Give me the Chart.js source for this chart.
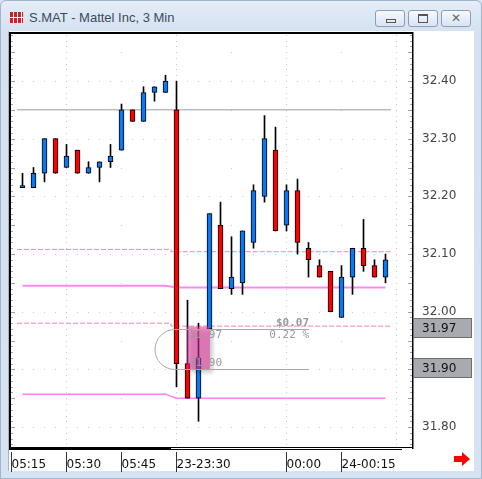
<!DOCTYPE html>
<html>
<head>
    <meta charset="UTF-8">
    <title>S.MAT - Mattel Inc, 3 Min</title>
    <script src="https://cdn.jsdelivr.net/npm/chart.js@4.4.0/dist/chart.umd.min.js"></script>
    <style>
      body { margin:0; width:482px; height:479px; overflow:hidden; background:#d6e3f3; }
      .win { position:absolute; left:0; top:0; width:480px; height:477px; border:1px solid #a3b3c9;
             border-radius:6px 6px 0 0; background:linear-gradient(#e4edf8, #d4e1f1 32px, #d6e3f3); }
      .title { position:absolute; left:29px; top:10px; font:13px "Liberation Sans", Arial, sans-serif; color:#3d4a5e; }
      .icon { position:absolute; left:10px; top:12px; width:13px; height:11px;
              background:repeating-linear-gradient(90deg, #d42020 0 3px, #fff 3px 4px); }
      .icon:after { content:""; position:absolute; left:0; top:5px; width:13px; height:1px; background:#fff; }
      .btn { position:absolute; top:10px; width:28px; height:15px; border:1px solid #8d9db5; border-radius:3px;
             background:linear-gradient(#f6f9fd, #d9e4f1); }
      .min:after { content:""; position:absolute; left:10px; top:8px; width:8px; height:2px; border:1px solid #555; }
      .max:after { content:""; position:absolute; left:9px; top:3px; width:8px; height:6px; border:1px solid #555; border-top-width:2px; }
      .cls { font:bold 12px "DejaVu Sans", sans-serif; color:#666; text-align:center; line-height:15px; }
      .client { position:absolute; left:8px; top:31px; width:465px; height:440px; background:#fff; border-left:1px solid #a8b4c4; }
      canvas { position:absolute; left:0; top:0; }
    </style>
</head>
<body>
    <div class="win"></div>
    <div class="icon"></div>
    <div class="title">S.MAT - Mattel Inc, 3 Min</div>
    <div class="btn min" style="left:375px"></div>
    <div class="btn max" style="left:408px"></div>
    <div class="btn cls" style="left:441px">✕</div>
    <div class="client"></div>
    <canvas id="myChart" width="474" height="474"></canvas>

  <script>
      // 3 min candles, index 0..33
      const opens  = [32.215, 32.215, 32.24, 32.30, 32.25, 32.28, 32.24, 32.25, 32.26, 32.28, 32.35, 32.33, 32.38, 32.38, 32.35, 31.91, 31.85,
                      31.97, 32.15, 32.04, 32.05, 32.12, 32.20, 32.28, 32.15, 32.21, 32.11, 32.08, 32.07, 31.99, 32.06, 32.11, 32.08, 32.06];
      const highs  = [32.24, 32.25, 32.30, 32.30, 32.29, 32.28, 32.26, 32.26, 32.29, 32.36, 32.35, 32.39, 32.39, 32.41, 32.40, 32.02, 31.98,
                      32.17, 32.19, 32.13, 32.14, 32.22, 32.34, 32.32, 32.22, 32.23, 32.12, 32.09, 32.07, 32.08, 32.11, 32.16, 32.09, 32.10];
      const lows   = [32.215, 32.215, 32.225, 32.24, 32.25, 32.24, 32.24, 32.225, 32.25, 32.28, 32.33, 32.33, 32.365, 32.38, 31.87, 31.85, 31.81,
                      31.97, 32.04, 32.03, 32.03, 32.11, 32.19, 32.14, 32.14, 32.10, 32.06, 32.06, 32.00, 31.99, 32.03, 32.07, 32.06, 32.05];
      const closes = [32.215, 32.24, 32.30, 32.24, 32.27, 32.24, 32.25, 32.26, 32.27, 32.35, 32.33, 32.38, 32.39, 32.40, 31.91, 31.85, 31.92,
                      32.17, 32.04, 32.06, 32.14, 32.21, 32.30, 32.14, 32.21, 32.12, 32.09, 32.06, 32.00, 32.06, 32.11, 32.08, 32.06, 32.09];

      // bottom time axis (bar index of each label)
      const timeIdx    = [-1, 4, 9, 14, 24, 29];
      const timeLabels = ['05:15', '05:30', '05:45', '23-23:30', '00:00', '24-00:15'];
      const priceTicks = [31.8, 31.9, 32.0, 32.1, 32.2, 32.3, 32.4];

      // overlay lines as [barIndex, price]
      const refLine    = [[-0.5, 32.35], [33.5, 32.35]];
      const upperDash  = [[-0.5, 32.108], [13.5, 32.108], [13.5, 32.104], [33.5, 32.104]];
      const upperBand  = [[0, 32.045], [13, 32.045], [14, 32.042], [33, 32.042]];
      const lowerDash  = [[-0.5, 31.980], [13.5, 31.980], [13.5, 31.975], [33.5, 31.975]];
      const lowerBand  = [[0, 31.857], [13, 31.857], [14, 31.850], [33, 31.850]];

      // price measure tool
      const measureHi = 31.97, measureLo = 31.90;
      const measureFrom = 14.95, measureTo = 17.05;
      const measureText = ['$0.07', '0.22 %'];

      const BLUE = '#0a78f0', RED = '#ff0000';
      const pts = a => a.map(p => ({x: p[0], y: p[1]}));

      const chrome = {
        id: 'chrome',
        beforeDatasetsDraw(chart) {
          const ctx = chart.ctx, xs = chart.scales.x, ys = chart.scales.y, a = chart.chartArea;
          ctx.save();
          ctx.fillStyle = '#c9c9c9';
          priceTicks.forEach(v => {
            const y = Math.round(ys.getPixelForValue(v));
            for (let i = 0; i <= 34; i++) ctx.fillRect(Math.floor(xs.getPixelForValue(i)), y, 1, 1);
          });
          for (let c = 3177; c <= 3248; c++) {
            const y = Math.round(ys.getPixelForValue(c / 100));
            [4, 14, 24, 34].forEach(i => ctx.fillRect(Math.floor(xs.getPixelForValue(i)), y, 1, 1));
            if (c % 5 === 0) [9, 19, 29].forEach(i => ctx.fillRect(Math.floor(xs.getPixelForValue(i)), y, 1, 1));
          }
          // small price ticks inside the frame
          ctx.fillStyle = '#a0a0a0';
          for (let c = 3177; c <= 3248; c++) {
            const y = Math.round(ys.getPixelForValue(c / 100));
            const len = c % 5 === 0 ? 4 : 2;
            ctx.fillRect(a.left + 1, y, len, 1);
            ctx.fillRect(a.right - len, y, len, 1);
          }
          ctx.restore();
        },
        afterDatasetsDraw(chart) {
          const ctx = chart.ctx, xs = chart.scales.x, ys = chart.scales.y, a = chart.chartArea;
          const yHi = Math.round(ys.getPixelForValue(measureHi)) + 0.5;
          const yLo = Math.round(ys.getPixelForValue(measureLo)) + 0.5;
          const x0 = xs.getPixelForValue(measureFrom), x1 = xs.getPixelForValue(measureTo);
          ctx.save();
          // pink box with shadow
          ctx.shadowColor = 'rgba(0,0,0,0.35)';
          ctx.shadowBlur = 4; ctx.shadowOffsetX = 3; ctx.shadowOffsetY = 3;
          ctx.fillStyle = 'rgba(228,46,155,0.55)';
          ctx.fillRect(x0, yHi - 3, x1 - x0, yLo - yHi + 3);
          ctx.restore();
          ctx.save();
          ctx.strokeStyle = '#a8a8a8'; ctx.lineWidth = 1;
          const r = (yLo - yHi) / 2, cx = 175;
          ctx.beginPath();
          ctx.moveTo(309, yHi); ctx.lineTo(cx, yHi);
          ctx.arc(cx, yHi + r, r, -Math.PI / 2, Math.PI / 2, true);
          ctx.lineTo(309, yLo);
          ctx.stroke();
          ctx.fillStyle = '#9a9a9a';
          ctx.font = '11px "DejaVu Sans Mono"';
          ctx.textBaseline = 'middle';
          ctx.textAlign = 'left';
          ctx.fillText(measureHi.toFixed(2), 189, yHi + 6);
          ctx.fillText(measureLo.toFixed(2), 189, yLo - 6);
          ctx.textAlign = 'right';
          ctx.font = 'bold 11px "DejaVu Sans Mono"';
          ctx.fillText(measureText[0], 309, yHi - 6);
          ctx.font = '11px "DejaVu Sans Mono"';
          ctx.fillText(measureText[1], 309, yHi + 6);

          // frame
          ctx.fillStyle = '#000';
          ctx.fillRect(a.left - 1, a.top - 1, 2, a.bottom - a.top + 2);
          ctx.fillRect(a.left - 1, a.top - 1, a.right - a.left + 2, 2);
          ctx.fillRect(a.right, a.top - 1, 1.5, a.bottom - a.top + 3);
          ctx.fillRect(a.left - 1, a.bottom, a.right - a.left + 1, 1);
          ctx.fillRect(a.left - 1, a.bottom, 162, 3);
          ctx.fillRect(a.left + 161, a.bottom + 2, 231, 1);

          // price tags on the axis
          ctx.font = '12px "DejaVu Sans"';
          ctx.textAlign = 'left';
          [measureHi, measureLo].forEach(v => {
            const y = Math.round(ys.getPixelForValue(v));
            ctx.fillStyle = '#a9a9b1';
            ctx.fillRect(a.right + 1, y - 11, 59, 20);
            ctx.strokeStyle = '#6e6e6e';
            ctx.strokeRect(a.right + 1.5, y - 10.5, 58, 19);
            ctx.fillStyle = '#111';
            ctx.fillText(v.toFixed(2), a.right + 10, y);
          });

          // separators of the time row
          ctx.fillStyle = '#333';
          timeIdx.forEach(i => ctx.fillRect(Math.floor(xs.getPixelForValue(i)), a.bottom + 5, 1, 20));

          // red arrow
          ctx.fillStyle = '#ff0000';
          ctx.beginPath();
          ctx.moveTo(454, 456); ctx.lineTo(462, 456); ctx.lineTo(462, 452); ctx.lineTo(470, 459);
          ctx.lineTo(462, 466); ctx.lineTo(462, 462); ctx.lineTo(454, 462); ctx.closePath();
          ctx.fill();
          ctx.restore();
        }
      };

      const ctx = document.getElementById('myChart').getContext('2d');
      const myChart = new Chart(ctx, {
          type: 'bar',
          data: {
              datasets: [{
                  label: 'body',
                  data: opens.map((o, i) => ({x: i, y: [o, closes[i]]})),
                  backgroundColor: opens.map((o, i) => closes[i] >= o ? BLUE : RED),
                  borderColor: '#000',
                  borderWidth: 1,
                  borderSkipped: false,
                  barThickness: 5,
                  minBarLength: 2,
                  grouped: false,
                  order: 0
              }, {
                  label: 'wick',
                  data: highs.map((h, i) => ({x: i, y: [lows[i], h]})),
                  backgroundColor: '#000',
                  borderWidth: 0,
                  barThickness: 1,
                  grouped: false,
                  order: 1
              },
              { type: 'line', data: pts(refLine), borderColor: '#9c9c9c', borderWidth: 1, pointRadius: 0, order: 2 },
              { type: 'line', data: pts(upperDash), borderColor: '#ee86ba', borderWidth: 1, borderDash: [5, 2], pointRadius: 0, order: 2 },
              { type: 'line', data: pts(lowerDash), borderColor: '#ee86ba', borderWidth: 1, borderDash: [5, 2], pointRadius: 0, order: 2 },
              { type: 'line', data: pts(upperBand), borderColor: '#ff88ee', borderWidth: 2, pointRadius: 0, order: 2 },
              { type: 'line', data: pts(lowerBand), borderColor: '#ff80f4', borderWidth: 1.5, pointRadius: 0, order: 2 }]
          },
          options: {
              responsive: false,
              animation: false,
              events: [],
              layout: { padding: { left: 10, top: 33, right: 0, bottom: 0 } },
              plugins: { legend: { display: false }, tooltip: { enabled: false } },
              scales: {
                  x: {
                      type: 'linear', offset: false, position: 'bottom',
                      min: -1.13636, max: 35.40909,
                      grid: { display: false, offset: false }, border: { display: false },
                      afterBuildTicks: s => { s.ticks = timeIdx.map(v => ({ value: v })); },
                      afterFit: s => { s.height = 27; },
                      ticks: {
                          align: 'start', padding: 3, maxRotation: 0, autoSkip: false, color: '#111',
                          font: { family: 'DejaVu Sans', size: 12 },
                          callback: (v, i) => timeLabels[i]
                      }
                  },
                  y: {
                      position: 'right',
                      min: 31.7654, max: 32.4832,
                      grid: { display: false, drawTicks: false }, border: { display: false },
                      afterBuildTicks: s => { s.ticks = priceTicks.map(v => ({ value: v })); },
                      afterFit: s => { s.width = 62; },
                      ticks: {
                          padding: 10, color: '#444',
                          font: { family: 'DejaVu Sans', size: 12 },
                          callback: v => v.toFixed(2)
                      }
                  }
              }
          },
          plugins: [chrome]
      });
  </script>
</body>
</html>
